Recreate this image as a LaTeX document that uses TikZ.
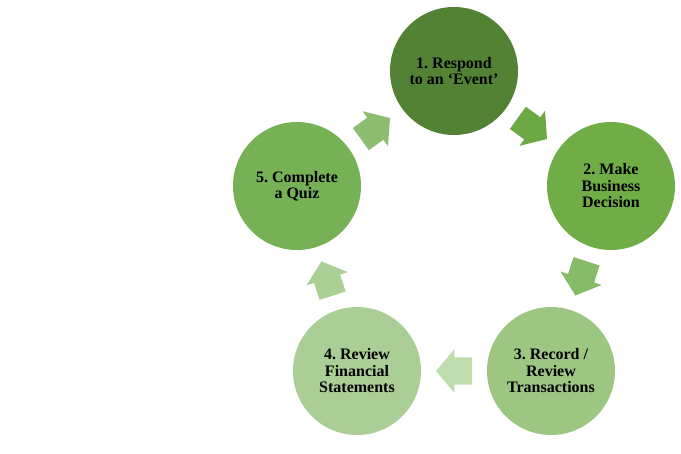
\documentclass[tikz,border=0pt]{standalone}
\usepackage{fontspec}
\setmainfont{Liberation Serif}
\usetikzlibrary{shapes,arrows,calc}

\definecolor{gOne}{RGB}{84,130,53}
\definecolor{gTwo}{RGB}{112,173,71}
\definecolor{gThree}{RGB}{157,198,130}
\definecolor{gFour}{RGB}{171,206,150}
\definecolor{gFive}{RGB}{118,177,85}
\definecolor{aOne}{RGB}{108,168,68}
\definecolor{aTwo}{RGB}{136,187,104}
\definecolor{aThree}{RGB}{190,220,174}
\definecolor{aFour}{RGB}{170,208,150}
\definecolor{aFive}{RGB}{141,190,112}

\begin{document}
\frenchspacing
\begin{tikzpicture}[x=1pt, y=-1pt]
    \tikzstyle{stage} = [circle, fill=#1, minimum size=128pt, inner sep=0pt, align=center, font=\fontsize{16}{16.5}\selectfont\bfseries]
    \tikzstyle{cyc} = [single arrow, fill=#1, draw=none, minimum height=36pt, inner xsep=0pt, inner ysep=13.5pt, single arrow head extend=8pt, single arrow tip angle=100]

    \useasboundingbox (0,0) rectangle (681,454);

    \node [stage=gOne] (s1) at (454,71) {1. Respond\\to an ‘Event’};
    \node [stage=gTwo] (s2) at (611,186) {2. Make\\Business\\Decision};
    \node [stage=gThree] (s3) at (551,371) {3. Record /\\Review\\Transactions};
    \node [stage=gFour] (s4) at (357,371) {4. Review\\Financial\\Statements};
    \node [stage=gFive] (s5) at (297,186) {5. Complete\\a Quiz};

    \node [cyc=aOne, rotate=-36] (a12) at ($(s1)!0.47!(s2)$) {};
    \node [cyc=aTwo, rotate=-108] (a23) at ($(s2)!0.47!(s3)$) {};
    \node [cyc=aThree, rotate=180] (a34) at ($(s3)!0.47!(s4)$) {};
    \node [cyc=aFour, rotate=108] (a45) at ($(s4)!0.47!(s5)$) {};
    \node [cyc=aFive, rotate=36] (a51) at ($(s5)!0.47!(s1)$) {};
\end{tikzpicture}
\end{document}
